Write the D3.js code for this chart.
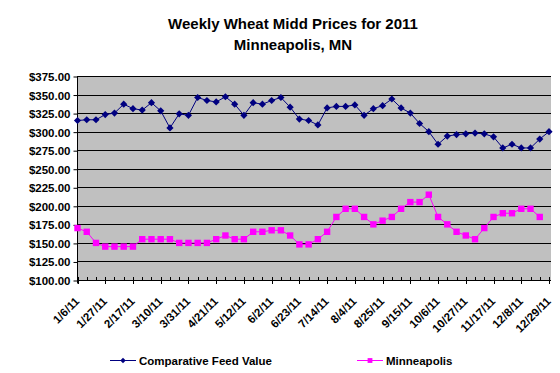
<!DOCTYPE html>
<html>
<head>
<meta charset="utf-8">
<script src="https://cdn.jsdelivr.net/npm/d3@7"></script>
<style>
  body { margin: 0; background: #fff; }
  text { font-family: "Liberation Sans", Arial, sans-serif; font-weight: bold; fill: #000; }
</style>
</head>
<body>
<div id="chart"></div>
<script>
// weekly dates, 1/6/11 .. 12/29/11
var weeks = ["1/6/11","1/13/11","1/20/11","1/27/11","2/3/11","2/10/11","2/17/11","2/24/11","3/3/11","3/10/11",
  "3/17/11","3/24/11","3/31/11","4/7/11","4/14/11","4/21/11","4/28/11","5/5/11","5/12/11","5/19/11",
  "5/26/11","6/2/11","6/9/11","6/16/11","6/23/11","6/30/11","7/7/11","7/14/11","7/21/11","7/28/11",
  "8/4/11","8/11/11","8/18/11","8/25/11","9/1/11","9/8/11","9/15/11","9/22/11","9/29/11","10/6/11",
  "10/13/11","10/20/11","10/27/11","11/3/11","11/10/11","11/17/11","11/24/11","12/1/11","12/8/11","12/15/11",
  "12/22/11","12/29/11"];

var feedValue = [315,316,316,323,325,337,331,329,339,328,
  305,324,322,346,342,340,347,337,322,339,
  337,342,346,333,317,315,309,332,334,334,
  336,322,331,335,344,332,325,311,300,283,
  294,296,297,298,297,293,278,283,278,278,
  290,300];

// last week has no Minneapolis quote
var minneapolis = [170,165,150,145,145,145,145,155,155,155,
  155,150,150,150,150,155,160,155,155,165,
  165,167,167,160,148,148,155,165,185,196,
  196,185,175,180,185,196,205,205,215,185,
  175,165,160,155,170,185,190,190,196,196,
  185,null];

var yTicks = d3.range(100, 376, 25);

var svgWidth = 560;
var svgHeight = 373;
var plot = { left: 77, right: 551, top: 76, bottom: 280 };

var svg = d3.select("#chart")
  .append("svg")
  .attr("width", svgWidth)
  .attr("height", svgHeight);

var xScale = d3.scaleLinear()
  .domain([0, weeks.length - 1])
  .range([plot.left + 0.5, plot.right - 2]);

var yScale = d3.scaleLinear()
  .domain([100, 375])
  .range([plot.bottom, plot.top]);

var crisp = v => Math.round(v) + 0.5;

// excel-like square diamond
function diamond(r) {
  return `M0,${-r}L${r},0L0,${r}L${-r},0Z`;
}
function square(r) {
  return `M${-r},${-r}H${r}V${r}H${-r}Z`;
}

// title
var title = svg.append("text")
  .attr("x", 293)
  .attr("y", 29)
  .attr("text-anchor", "middle")
  .style("font-size", "15px");
title.append("tspan").attr("x", 293).text("Weekly Wheat Midd Prices for 2011");
title.append("tspan").attr("x", 293).attr("dy", 21).text("Minneapolis, MN");

// plot background
svg.append("rect")
  .attr("x", plot.left)
  .attr("y", plot.top)
  .attr("width", plot.right - plot.left)
  .attr("height", plot.bottom - plot.top)
  .attr("fill", "#c0c0c0");

// gridlines
svg.append("g")
  .selectAll("line")
  .data(yTicks)
  .enter()
  .append("line")
  .attr("x1", plot.left)
  .attr("x2", plot.right)
  .attr("y1", d => crisp(yScale(d)))
  .attr("y2", d => crisp(yScale(d)))
  .attr("stroke", "#000")
  .attr("stroke-width", 1);

// y axis
var yAxis = svg.append("g")
  .attr("transform", `translate(${plot.left + 0.5}, 0.5)`)
  .call(d3.axisLeft(yScale)
    .tickValues(yTicks)
    .tickSize(4)
    .tickPadding(3)
    .tickFormat(d => "$" + d3.format(".2f")(d)));
yAxis.select(".domain").attr("d", `M0,${plot.top}V${plot.bottom + 3}`);
yAxis.selectAll("line").attr("stroke", "#000");
yAxis.selectAll("text")
  .style("font-size", "11.5px")
  .attr("dy", "0.35em");

// x axis: minor ticks inside every week, major ticks outside every 3 weeks
var xAxis = svg.append("g");
xAxis.append("line")
  .attr("x1", plot.left)
  .attr("x2", plot.right)
  .attr("y1", crisp(plot.bottom))
  .attr("y2", crisp(plot.bottom))
  .attr("stroke", "#000");
xAxis.selectAll("line.minor")
  .data(weeks)
  .enter()
  .append("line")
  .attr("class", "minor")
  .attr("x1", (d, i) => crisp(xScale(i)))
  .attr("x2", (d, i) => crisp(xScale(i)))
  .attr("y1", plot.bottom - 3)
  .attr("y2", plot.bottom)
  .attr("stroke", "#000");

var majorIdx = d3.range(0, weeks.length, 3);
xAxis.selectAll("line.major")
  .data(majorIdx)
  .enter()
  .append("line")
  .attr("class", "major")
  .attr("x1", i => crisp(xScale(i)))
  .attr("x2", i => crisp(xScale(i)))
  .attr("y1", plot.bottom)
  .attr("y2", plot.bottom + 4)
  .attr("stroke", "#000");
xAxis.selectAll("text")
  .data(majorIdx)
  .enter()
  .append("text")
  .attr("transform", i => `translate(${xScale(i) + 2.5}, ${plot.bottom + 22}) rotate(-45)`)
  .attr("text-anchor", "end")
  .style("font-size", "11.5px")
  .text(i => weeks[i]);

// series
var series = [
  { name: "Comparative Feed Value", values: feedValue, color: "#000080", shape: diamond, r: 3.6 },
  { name: "Minneapolis", values: minneapolis, color: "#ff00ff", shape: square, r: 3.2 }
];

series.forEach(function(s) {
  var line = d3.line()
    .defined(d => d != null)
    .x((d, i) => xScale(i))
    .y(d => yScale(d));
  svg.append("path")
    .datum(s.values)
    .attr("d", line)
    .attr("fill", "none")
    .attr("stroke", s.color)
    .attr("stroke-width", 1);
  svg.append("g")
    .selectAll("path")
    .data(s.values.map((v, i) => [i, v]).filter(d => d[1] != null))
    .enter()
    .append("path")
    .attr("d", s.shape(s.r))
    .attr("transform", d => `translate(${xScale(d[0])}, ${yScale(d[1])})`)
    .attr("fill", s.color);
});

// legend
var legendPos = [{ x: 110, tx: 139 }, { x: 357, tx: 386 }];
series.forEach(function(s, i) {
  var g = svg.append("g");
  var p = legendPos[i];
  g.append("line")
    .attr("x1", p.x).attr("x2", p.x + 26)
    .attr("y1", 360.5).attr("y2", 360.5)
    .attr("stroke", s.color);
  g.append("path")
    .attr("d", s.shape(s.r * 0.75))
    .attr("transform", `translate(${p.x + 13}, 360.5)`)
    .attr("fill", s.color);
  g.append("text")
    .attr("x", p.tx)
    .attr("y", 364.5)
    .style("font-size", "11.5px")
    .text(s.name);
});
</script>
</body>
</html>
